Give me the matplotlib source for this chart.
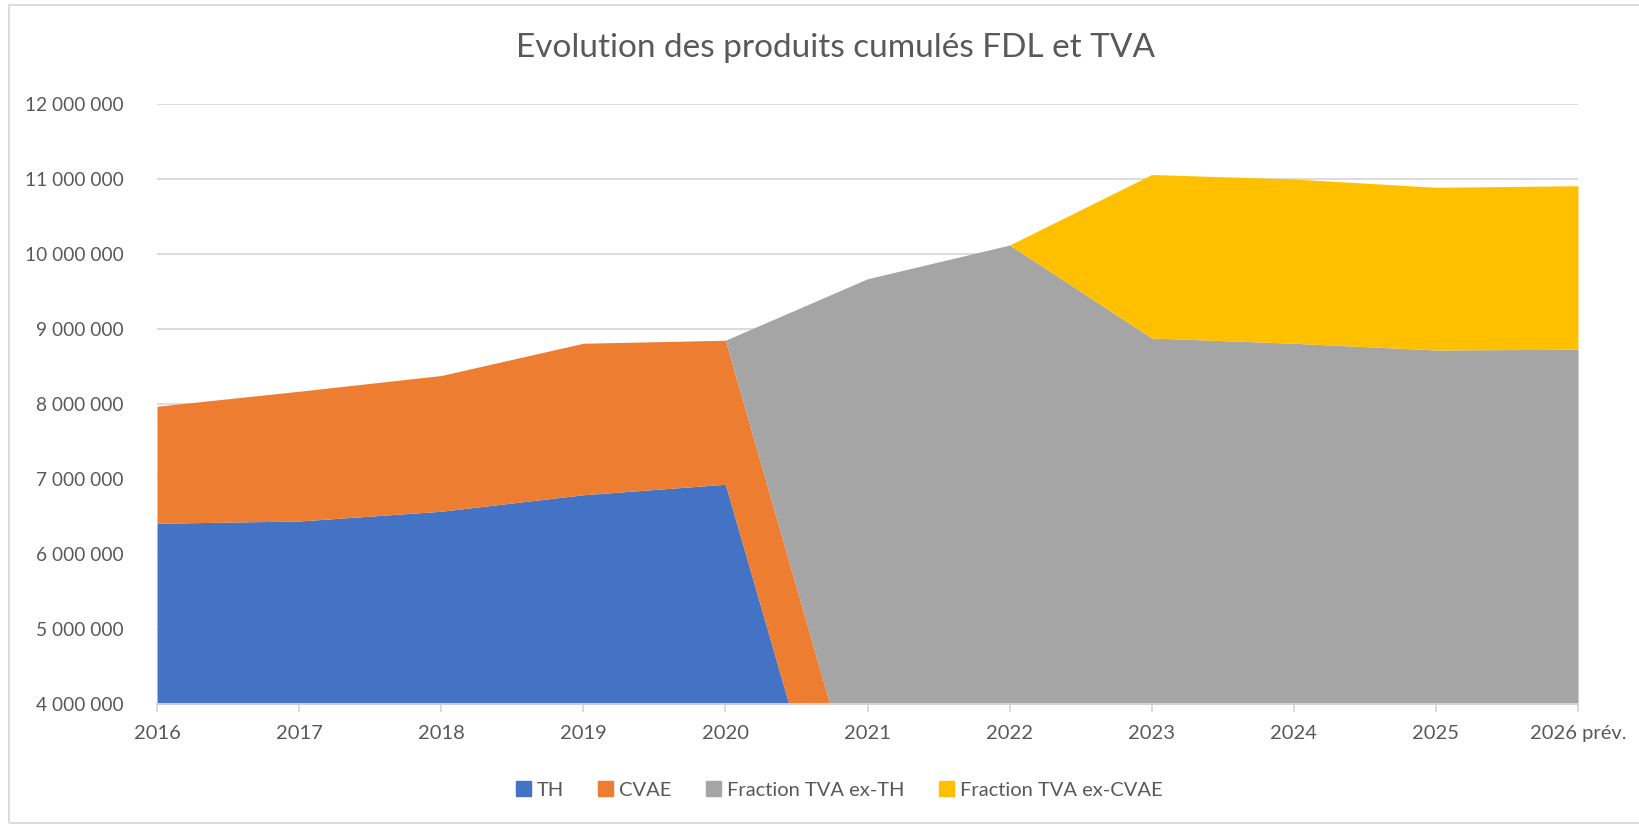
import matplotlib
matplotlib.use("Agg")
import matplotlib.pyplot as plt
import matplotlib.patches as mpatches
from matplotlib.ticker import FuncFormatter
import numpy as np

years = ["2016", "2017", "2018", "2019", "2020", "2021", "2022", "2023", "2024", "2025", "2026 prév."]
th = [6.41e6, 6.44e6, 6.57e6, 6.79e6, 6.93e6, 0.37e6, 0.37e6, 0.37e6, 0.37e6, 0.37e6, 0.37e6]
cvae = [1.56e6, 1.73e6, 1.81e6, 2.02e6, 1.92e6, 1.88e6, 1.95e6, 0, 0, 0, 0]
tva_ex_th = [0, 0, 0, 0, 0, 7.42e6, 7.80e6, 8.51e6, 8.44e6, 8.35e6, 8.36e6]
tva_ex_cvae = [0, 0, 0, 0, 0, 0, 0, 2.18e6, 2.19e6, 2.17e6, 2.18e6]

series = [("TH", th, "#4472C4"), ("CVAE", cvae, "#ED7D31"),
          ("Fraction TVA ex-TH", tva_ex_th, "#A5A5A5"),
          ("Fraction TVA ex-CVAE", tva_ex_cvae, "#FFC000")]

plt.rcParams['font.family'] = ['Lato', 'DejaVu Sans']
txt = "#595959"

fig = plt.figure(figsize=(16.39, 8.25), dpi=100)
ax = fig.add_axes([157/1639, 1-704/825, (1578-157)/1639, (704-104)/825])

x = np.arange(len(years))
base = np.zeros(len(years))
handles = []
for name, vals, col in series:
    top = base + np.array(vals)
    ax.fill_between(x, base, top, color=col, linewidth=0, zorder=2)
    handles.append(mpatches.Patch(color=col, label=name))
    base = top

ax.set_xlim(0, len(years) - 1)
ax.set_ylim(4e6, 12e6)
ax.set_yticks(np.arange(4e6, 12.01e6, 1e6))
ax.yaxis.set_major_formatter(FuncFormatter(lambda v, p: f"{int(v):,}".replace(",", " ")))
ax.grid(axis="y", color="#D9D9D9", linewidth=1.3, zorder=1)
ax.set_axisbelow(True)
for s in ["top", "right", "left"]:
    ax.spines[s].set_visible(False)
ax.spines["bottom"].set_color("#D9D9D9")
ax.spines["bottom"].set_linewidth(1.3)
ax.spines["bottom"].set_zorder(3)
ax.tick_params(axis="y", length=0, pad=24, labelsize=13.8, labelcolor=txt)
ax.set_xticks(x)
ax.set_xticklabels(years)
ax.tick_params(axis="x", length=6, width=1.3, color="#D9D9D9", pad=9, labelsize=14.5, labelcolor=txt)

fig.text(836/1639, 1-48/825, "Evolution des produits cumulés FDL et TVA", ha="center", va="center",
         fontsize=24, color=txt)

fig.legend(handles=handles, loc="center", bbox_to_anchor=(0.512, 1-790/825), ncol=4, frameon=False,
           fontsize=14.5, labelcolor=txt, handlelength=0.75, handleheight=0.75, handletextpad=0.3,
           columnspacing=1.7)

fig.patches.append(mpatches.Rectangle((9/1639, 2/825), 1 - 9/1639 + 0.01, 1 - 7/825, transform=fig.transFigure,
                                      fill=False, edgecolor="#D9D9D9", linewidth=1.3))

fig.savefig("out.png", dpi=100)
